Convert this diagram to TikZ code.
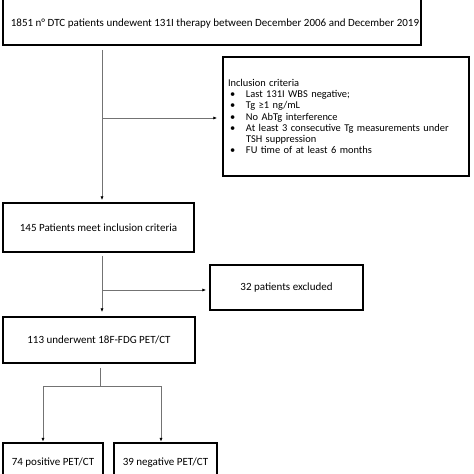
\documentclass[tikz,border=0pt]{standalone}
\usepackage{fontspec}
\setmainfont{Carlito}
\usetikzlibrary{arrows.meta}
\tikzset{
  box/.style={draw=black, line width=1.5pt, fill=white, inner sep=0pt, font=\fontsize{11}{11.3}\selectfont},
  conn/.style={draw=black!55, line width=0.8pt},
  arr/.style={conn, -{Latex[length=4pt,width=3.2pt,color=black]}},
}
\begin{document}
\begin{tikzpicture}[x=1pt,y=-1pt]
\clip (0,0) rectangle (474,474);
\fill[white] (0,0) rectangle (474,474);
% boxes
\node[box, minimum width=418pt, minimum height=60pt, text height=24pt, text depth=2pt] (top) at (212,15) {\hspace*{6pt}1851 n° DTC patients undewent 131I therapy between December 2006 and December 2019};
\node[box, minimum width=246pt, minimum height=119pt, text width=236pt, align=left, font=\fontsize{10.4}{11.3}\selectfont] (incl) at (346,116.5) {Inclusion criteria\\
\hspace*{2pt}\makebox[16pt][l]{•}Last 131I WBS negative;\\
\hspace*{2pt}\makebox[16pt][l]{•}Tg ≥1 ng/mL\\
\hspace*{2pt}\makebox[16pt][l]{•}No AbTg interference\\
\hspace*{2pt}\makebox[16pt][l]{•}At least 3 consecutive Tg measurements under\\
\hspace*{18pt}TSH suppression\\
\hspace*{2pt}\makebox[16pt][l]{•}FU time of at least 6 months};
\node[box, minimum width=191pt, minimum height=49pt] (meet) at (98.5,227.5) {145 Patients meet inclusion criteria};
\node[box, minimum width=153pt, minimum height=45pt] (excl) at (286.5,287.5) {32 patients excluded};
\node[box, minimum width=192pt, minimum height=46pt] (pet) at (99,340) {113 underwent 18F-FDG PET/CT};
\node[box, minimum width=100pt, minimum height=50pt, text height=8pt, text depth=14pt] (pos) at (53,468) {74 positive PET/CT};
\node[box, minimum width=103pt, minimum height=50pt, text height=8pt, text depth=14pt] (neg) at (165.5,468) {39 negative PET/CT};
% connectors
\coordinate (c1) at (102,118);
\coordinate (c2) at (102,290);
\coordinate (c3) at (100,386);
\coordinate (c4) at (43,386);
\coordinate (c5) at (161,386);
\draw[arr, shorten <=4pt, shorten >=2pt] (top.south -| c1) -- (meet.north -| c1);
\draw[arr, shorten >=5pt] (c1) -- (incl.west |- c1);
\draw[arr, shorten <=3pt, shorten >=4pt] (meet.south -| c2) -- (pet.north -| c2);
\draw[arr, shorten >=3pt] (c2) -- (excl.west |- c2);
\draw[conn, shorten <=4pt] (pet.south -| c3) -- (c3);
\draw[conn] (c4) -- (c5);
\draw[arr, shorten >=0.5pt] (c4) -- (pos.north -| c4);
\draw[arr, shorten >=0.5pt] (c5) -- (neg.north -| c5);
\end{tikzpicture}
\end{document}
